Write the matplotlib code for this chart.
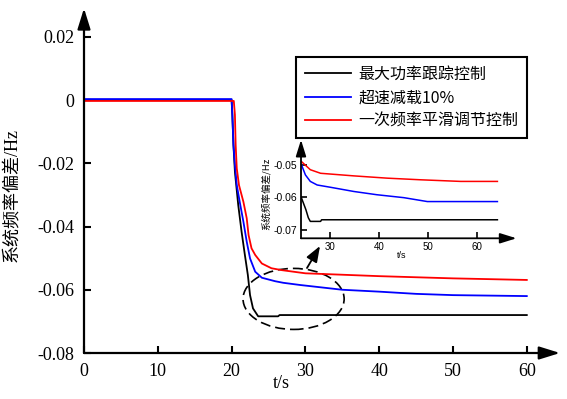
import matplotlib
matplotlib.use('Agg')
import matplotlib.pyplot as plt
from matplotlib.patches import Ellipse

# 主图数据
t_mppt = [0, 20.0, 20.1, 20.25, 20.45, 20.9, 21.35, 21.8, 22.2, 22.5, 22.9, 23.6, 26.3, 26.5,
          60]
f_mppt = [0, 0, -0.0047, -0.0142, -0.0227, -0.0332, -0.0416, -0.049, -0.0553, -0.0617,
          -0.0659, -0.0684, -0.0684, -0.068, -0.068]

t_deload = [0, 20.0, 20.1, 20.25, 20.45, 20.7, 21.1, 21.6, 22.05, 22.5, 23.2, 24.1, 25.9,
            27, 29.3, 35, 40, 45, 50, 60]
f_deload = [0.0003, 0.0003, -0.0047, -0.0142, -0.0206, -0.0269, -0.0322, -0.0385, -0.0448,
            -0.0501, -0.0543, -0.0562, -0.0573, -0.0578, -0.0585, -0.0600, -0.0606, -0.0613,
            -0.0617, -0.062]

t_smooth = [0, 20.3, 20.45, 20.55, 20.7, 21.0, 21.6, 22.05, 22.3, 22.7, 23.2, 24.1, 25.4,
            26.8, 30, 40, 50, 60]
f_smooth = [-0.0003, -0.0003, -0.0047, -0.0142, -0.0216, -0.0269, -0.0322, -0.0374, -0.0427,
            -0.0469, -0.049, -0.0517, -0.0532, -0.0538, -0.0548, -0.0557, -0.0564, -0.0569]

# 局部放大图数据
ti_mppt = [24.1, 25.0, 25.5, 25.9, 28.0, 28.2, 64.1]
fi_mppt = [-0.0602, -0.0638, -0.0663, -0.0674, -0.0674, -0.0669, -0.0669]

ti_deload = [24.1, 24.9, 25.9, 27.3, 30, 34.8, 39.5, 45, 49.8, 64.1]
fi_deload = [-0.050, -0.0531, -0.0551, -0.0562, -0.0569, -0.0582, -0.0592, -0.0601, -0.0613,
             -0.0613]

ti_smooth = [24.1, 25.9, 28.0, 34.8, 41.6, 48.4, 56.6, 64.1]
fi_smooth = [-0.049, -0.0515, -0.0526, -0.0534, -0.0541, -0.0546, -0.0551, -0.0551]

labels = ['最大功率跟踪控制', '超速减载10%', '一次频率平滑调节控制']
colors = ['black', 'blue', 'red']

x_ticks = [0, 10, 20, 30, 40, 50, 60]
y_ticks = [0.02, 0, -0.02, -0.04, -0.06, -0.08]
y_ticklabels = ['0.02', '0', '-0.02', '-0.04', '-0.06', '-0.08']
xi_ticks = [30, 40, 50, 60]
yi_ticks = [-0.05, -0.06, -0.07]

cjk = ['Liberation Serif', 'Noto Sans CJK SC', 'DejaVu Sans']

W, H = 567, 399
fig = plt.figure(figsize=(W / 100, H / 100), dpi=100)


def arrow_axes(ax, lw, scale):
    """隐藏边框，画带箭头的坐标轴"""
    for s in ax.spines.values():
        s.set_visible(False)
    style = '-|>,head_length=0.9,head_width=0.28'
    for end in [(0, 1), (1, 0)]:
        ax.annotate('', xy=end, xytext=(0, 0), xycoords='axes fraction',
                    arrowprops=dict(arrowstyle=style, lw=lw, color='black',
                                    mutation_scale=scale, shrinkA=0, shrinkB=0))


ax = fig.add_axes([84 / W, 46 / H, 476 / W, 344.7 / H])
ax.set_facecolor('none')
ax.plot(t_mppt, f_mppt, color=colors[0], lw=1.3, label=labels[0])
ax.plot(t_deload, f_deload, color=colors[1], lw=1.3, label=labels[1])
ax.plot(t_smooth, f_smooth, color=colors[2], lw=1.3, label=labels[2])
ax.set_xlim(0, 64.5)
ax.set_ylim(-0.08, 0.029)
ax.set_xticks(x_ticks)
ax.set_xticklabels([str(v) for v in x_ticks], fontfamily='Liberation Serif', fontsize=13)
ax.set_yticks(y_ticks)
ax.set_yticklabels(y_ticklabels, fontfamily='Liberation Serif', fontsize=13)
ax.tick_params(direction='in', length=5, width=1.5, pad=7)
arrow_axes(ax, 1.6, 14)

ell = Ellipse((28.4, -0.0629), 13.7, 0.0193, fill=False, ls=(0, (6, 3)), lw=1.2,
              color='black')
ax.add_patch(ell)

fig.text(12 / W, 1 - 195 / H, '系统频率偏差/Hz', rotation=90, ha='center', va='center',
         fontsize=13, family=cjk)
fig.text(281 / W, 1 - 384 / H, 't/s', ha='center', va='center', fontsize=13,
         family='Liberation Serif')

leg = ax.legend(loc='upper right', bbox_to_anchor=(527 / W, 1 - 57 / H),
                bbox_transform=fig.transFigure, borderaxespad=0, fancybox=False,
                framealpha=1, edgecolor='black', handlelength=2.9, handletextpad=0.45,
                labelspacing=0.4, borderpad=0.55,
                prop={'family': ['Noto Sans CJK SC'], 'size': 11.5})
leg.get_frame().set_linewidth(1.5)

# 局部放大图
axi = fig.add_axes([301 / W, 1 - 238.3 / H, 215.5 / W, 98.5 / H])
axi.set_facecolor('none')
axi.plot(ti_mppt, fi_mppt, color=colors[0], lw=1.1)
axi.plot(ti_deload, fi_deload, color=colors[1], lw=1.1)
axi.plot(ti_smooth, fi_smooth, color=colors[2], lw=1.1)
axi.set_xlim(24, 68)
axi.set_ylim(-0.0726, -0.0423)
axi.set_xticks(xi_ticks)
axi.set_xticklabels([str(v) for v in xi_ticks], fontsize=7, fontfamily='Liberation Sans')
axi.set_yticks(yi_ticks)
axi.set_yticklabels(['-0.05', '-0.06', '-0.07'], fontsize=7.5, fontfamily='Liberation Sans')
axi.tick_params(direction='in', length=4, width=1.2, pad=3)
arrow_axes(axi, 1.3, 11)
fig.text(266 / W, 1 - 194 / H, '系统频率偏差/Hz', rotation=90, ha='center', va='center',
         fontsize=6.8, family=['Noto Sans CJK SC'])
fig.text(402 / W, 1 - 255 / H, 't/s', ha='center', va='center', fontsize=6.5,
         family='Liberation Sans')

# 椭圆指向放大图的箭头
ax.annotate('', xy=(320 / W, 1 - 246 / H), xytext=(307 / W, 1 - 268 / H),
            xycoords='figure fraction', textcoords='figure fraction',
            arrowprops=dict(arrowstyle='-|>,head_length=0.8,head_width=0.3', lw=1.3,
                            color='black', mutation_scale=12, shrinkA=0, shrinkB=0))

fig.savefig('out.png', dpi=100)
